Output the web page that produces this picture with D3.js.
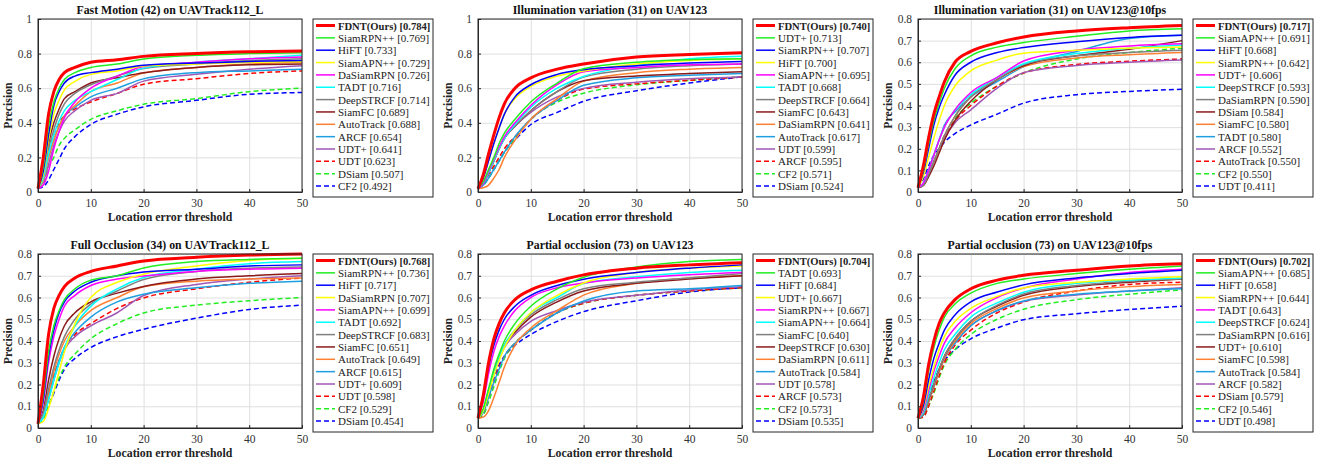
<!DOCTYPE html>
<html>
<head>
<meta charset="utf-8">
<script src="https://cdn.jsdelivr.net/npm/d3@7"></script>
<style>
  body { margin: 0; background: #fff; }
  svg text { font-family: "Times New Roman", "Liberation Serif", "DejaVu Serif", serif; }
  .grid line { stroke: #dfdfdf; stroke-width: 1; }
  .grid path { stroke: none; }
  .axis path, .axis line { stroke: #262626; }
  .axis text { fill: #333; font-size: 11.5px; }
</style>
</head>
<body>
<svg id="chart" width="1324" height="462"></svg>
<script>
const thresholds = [0, 1, 2, 3, 4, 5, 7, 10, 15, 20, 30, 40, 50];

const fmNames = ["FDNT(Ours)", "SiamRPN++", "HiFT", "SiamAPN++", "DaSiamRPN", "TADT", "DeepSTRCF", "SiamFC", "AutoTrack", "ARCF", "UDT+", "UDT", "DSiam", "CF2"];
const fmScores = [0.784, 0.769, 0.733, 0.729, 0.726, 0.716, 0.714, 0.689, 0.688, 0.654, 0.641, 0.623, 0.507, 0.492];
const fmCurves = [
  [0.02, 0.2, 0.45, 0.58, 0.65, 0.69, 0.72, 0.75, 0.765, 0.784, 0.80, 0.81, 0.815],
  [0.02, 0.15, 0.38, 0.52, 0.60, 0.65, 0.69, 0.72, 0.74, 0.769, 0.79, 0.80, 0.805],
  [0.02, 0.12, 0.33, 0.50, 0.58, 0.63, 0.67, 0.69, 0.71, 0.733, 0.745, 0.755, 0.76],
  [0.02, 0.10, 0.30, 0.45, 0.53, 0.59, 0.64, 0.68, 0.70, 0.729, 0.74, 0.75, 0.755],
  [0.02, 0.04, 0.12, 0.25, 0.35, 0.43, 0.52, 0.60, 0.67, 0.726, 0.75, 0.77, 0.78],
  [0.02, 0.08, 0.22, 0.33, 0.41, 0.47, 0.53, 0.58, 0.65, 0.716, 0.75, 0.77, 0.79],
  [0.02, 0.10, 0.25, 0.36, 0.45, 0.51, 0.57, 0.62, 0.67, 0.714, 0.74, 0.76, 0.77],
  [0.02, 0.10, 0.28, 0.40, 0.48, 0.54, 0.58, 0.63, 0.66, 0.689, 0.72, 0.735, 0.74],
  [0.02, 0.07, 0.20, 0.30, 0.38, 0.44, 0.50, 0.58, 0.63, 0.688, 0.72, 0.74, 0.75],
  [0.02, 0.08, 0.20, 0.30, 0.38, 0.44, 0.49, 0.55, 0.60, 0.654, 0.69, 0.70, 0.71],
  [0.02, 0.06, 0.16, 0.27, 0.35, 0.41, 0.47, 0.53, 0.57, 0.641, 0.68, 0.71, 0.73],
  [0.02, 0.10, 0.24, 0.33, 0.40, 0.44, 0.48, 0.52, 0.57, 0.623, 0.655, 0.685, 0.70],
  [0.02, 0.05, 0.14, 0.20, 0.27, 0.31, 0.36, 0.42, 0.47, 0.507, 0.54, 0.58, 0.60],
  [0.02, 0.03, 0.07, 0.13, 0.19, 0.25, 0.32, 0.39, 0.45, 0.492, 0.53, 0.565, 0.575]
];

const ivNames = ["FDNT(Ours)", "UDT+", "SiamRPN++", "HiFT", "SiamAPN++", "TADT", "DeepSTRCF", "SiamFC", "DaSiamRPN", "AutoTrack", "UDT", "ARCF", "CF2", "DSiam"];
const ivScores = [0.740, 0.713, 0.707, 0.700, 0.695, 0.668, 0.664, 0.643, 0.641, 0.617, 0.599, 0.595, 0.571, 0.524];
const ivCurves = [
  [0.02, 0.10, 0.22, 0.33, 0.43, 0.51, 0.60, 0.66, 0.71, 0.74, 0.78, 0.795, 0.805],
  [0.02, 0.06, 0.13, 0.20, 0.28, 0.34, 0.42, 0.52, 0.63, 0.713, 0.75, 0.765, 0.77],
  [0.02, 0.08, 0.18, 0.28, 0.37, 0.45, 0.55, 0.62, 0.68, 0.707, 0.73, 0.745, 0.755],
  [0.02, 0.08, 0.18, 0.28, 0.37, 0.45, 0.54, 0.61, 0.67, 0.700, 0.74, 0.76, 0.77],
  [0.02, 0.05, 0.12, 0.19, 0.26, 0.32, 0.40, 0.50, 0.62, 0.695, 0.72, 0.735, 0.74],
  [0.02, 0.05, 0.11, 0.18, 0.25, 0.31, 0.39, 0.49, 0.60, 0.668, 0.73, 0.77, 0.785],
  [0.02, 0.05, 0.11, 0.18, 0.25, 0.31, 0.38, 0.47, 0.58, 0.664, 0.71, 0.73, 0.74],
  [0.02, 0.05, 0.11, 0.18, 0.25, 0.31, 0.38, 0.47, 0.58, 0.643, 0.67, 0.685, 0.695],
  [0.02, 0.025, 0.04, 0.08, 0.13, 0.20, 0.30, 0.42, 0.54, 0.641, 0.69, 0.71, 0.72],
  [0.02, 0.04, 0.08, 0.13, 0.18, 0.23, 0.32, 0.42, 0.53, 0.617, 0.66, 0.675, 0.685],
  [0.02, 0.05, 0.11, 0.18, 0.25, 0.31, 0.38, 0.46, 0.55, 0.599, 0.635, 0.655, 0.665],
  [0.02, 0.05, 0.10, 0.15, 0.20, 0.25, 0.32, 0.42, 0.53, 0.595, 0.625, 0.645, 0.665],
  [0.02, 0.04, 0.08, 0.13, 0.18, 0.23, 0.31, 0.42, 0.52, 0.571, 0.62, 0.645, 0.665],
  [0.02, 0.04, 0.08, 0.13, 0.18, 0.23, 0.30, 0.39, 0.46, 0.524, 0.585, 0.63, 0.665]
];

const iv10Names = ["FDNT(Ours)", "SiamAPN++", "HiFT", "SiamRPN++", "UDT+", "DeepSTRCF", "DaSiamRPN", "DSiam", "SiamFC", "TADT", "ARCF", "AutoTrack", "CF2", "UDT"];
const iv10Scores = [0.717, 0.691, 0.668, 0.642, 0.606, 0.593, 0.590, 0.584, 0.580, 0.580, 0.552, 0.550, 0.550, 0.411];
const iv10Curves = [
  [0.02, 0.12, 0.25, 0.36, 0.44, 0.51, 0.60, 0.65, 0.69, 0.717, 0.745, 0.76, 0.77],
  [0.02, 0.10, 0.22, 0.33, 0.41, 0.48, 0.57, 0.63, 0.67, 0.691, 0.72, 0.745, 0.755],
  [0.02, 0.09, 0.20, 0.31, 0.39, 0.45, 0.54, 0.60, 0.645, 0.668, 0.695, 0.715, 0.725],
  [0.02, 0.07, 0.16, 0.25, 0.33, 0.40, 0.49, 0.56, 0.61, 0.642, 0.655, 0.665, 0.67],
  [0.02, 0.04, 0.10, 0.17, 0.24, 0.30, 0.38, 0.46, 0.53, 0.606, 0.655, 0.675, 0.685],
  [0.02, 0.04, 0.10, 0.17, 0.24, 0.30, 0.38, 0.45, 0.53, 0.593, 0.64, 0.665, 0.68],
  [0.02, 0.03, 0.08, 0.14, 0.20, 0.26, 0.35, 0.44, 0.52, 0.590, 0.63, 0.645, 0.655],
  [0.02, 0.03, 0.07, 0.12, 0.18, 0.24, 0.33, 0.42, 0.52, 0.584, 0.63, 0.66, 0.70],
  [0.02, 0.03, 0.08, 0.14, 0.20, 0.26, 0.35, 0.44, 0.52, 0.580, 0.62, 0.635, 0.645],
  [0.02, 0.04, 0.10, 0.17, 0.24, 0.31, 0.37, 0.44, 0.51, 0.580, 0.65, 0.71, 0.725],
  [0.02, 0.03, 0.08, 0.14, 0.20, 0.25, 0.32, 0.38, 0.48, 0.552, 0.585, 0.60, 0.61],
  [0.02, 0.03, 0.08, 0.14, 0.20, 0.26, 0.33, 0.40, 0.49, 0.550, 0.59, 0.605, 0.615],
  [0.02, 0.03, 0.08, 0.14, 0.20, 0.26, 0.34, 0.41, 0.49, 0.550, 0.615, 0.645, 0.665],
  [0.02, 0.06, 0.12, 0.17, 0.20, 0.23, 0.27, 0.31, 0.36, 0.411, 0.45, 0.465, 0.475]
];

const focNames = ["FDNT(Ours)", "SiamRPN++", "HiFT", "DaSiamRPN", "SiamAPN++", "TADT", "DeepSTRCF", "SiamFC", "AutoTrack", "ARCF", "UDT+", "UDT", "CF2", "DSiam"];
const focScores = [0.768, 0.736, 0.717, 0.707, 0.699, 0.692, 0.683, 0.651, 0.649, 0.615, 0.609, 0.598, 0.529, 0.454];
const focCurves = [
  [0.02, 0.20, 0.43, 0.55, 0.61, 0.65, 0.69, 0.72, 0.745, 0.768, 0.785, 0.795, 0.80],
  [0.02, 0.15, 0.35, 0.47, 0.54, 0.59, 0.64, 0.68, 0.70, 0.736, 0.765, 0.775, 0.78],
  [0.02, 0.13, 0.33, 0.45, 0.53, 0.58, 0.63, 0.67, 0.70, 0.717, 0.73, 0.745, 0.75],
  [0.02, 0.03, 0.09, 0.17, 0.26, 0.35, 0.48, 0.60, 0.67, 0.707, 0.745, 0.77, 0.78],
  [0.02, 0.12, 0.30, 0.42, 0.50, 0.56, 0.61, 0.655, 0.685, 0.699, 0.72, 0.73, 0.735],
  [0.02, 0.05, 0.13, 0.22, 0.30, 0.37, 0.47, 0.56, 0.64, 0.692, 0.73, 0.755, 0.765],
  [0.02, 0.07, 0.18, 0.28, 0.36, 0.42, 0.50, 0.57, 0.63, 0.683, 0.72, 0.735, 0.74],
  [0.02, 0.08, 0.22, 0.33, 0.41, 0.47, 0.53, 0.58, 0.62, 0.651, 0.685, 0.70, 0.71],
  [0.02, 0.06, 0.16, 0.26, 0.34, 0.40, 0.47, 0.54, 0.60, 0.649, 0.675, 0.685, 0.69],
  [0.02, 0.05, 0.14, 0.23, 0.31, 0.37, 0.44, 0.51, 0.58, 0.615, 0.645, 0.665, 0.675],
  [0.02, 0.05, 0.13, 0.22, 0.30, 0.36, 0.42, 0.47, 0.53, 0.609, 0.66, 0.685, 0.70],
  [0.02, 0.06, 0.15, 0.24, 0.31, 0.37, 0.43, 0.48, 0.55, 0.598, 0.64, 0.67, 0.69],
  [0.02, 0.04, 0.10, 0.17, 0.23, 0.28, 0.34, 0.41, 0.48, 0.529, 0.565, 0.585, 0.60],
  [0.02, 0.04, 0.10, 0.16, 0.22, 0.27, 0.32, 0.37, 0.42, 0.454, 0.505, 0.545, 0.565]
];

const poNames = ["FDNT(Ours)", "TADT", "HiFT", "UDT+", "SiamRPN++", "SiamAPN++", "SiamFC", "DeepSTRCF", "DaSiamRPN", "AutoTrack", "UDT", "ARCF", "CF2", "DSiam"];
const poScores = [0.704, 0.693, 0.684, 0.667, 0.667, 0.664, 0.640, 0.630, 0.611, 0.584, 0.578, 0.573, 0.573, 0.535];
const poCurves = [
  [0.045, 0.15, 0.30, 0.41, 0.48, 0.53, 0.59, 0.635, 0.675, 0.704, 0.735, 0.75, 0.76],
  [0.045, 0.09, 0.18, 0.27, 0.34, 0.40, 0.48, 0.56, 0.64, 0.693, 0.74, 0.765, 0.775],
  [0.045, 0.14, 0.28, 0.38, 0.45, 0.50, 0.56, 0.61, 0.655, 0.684, 0.715, 0.735, 0.75],
  [0.045, 0.08, 0.16, 0.24, 0.31, 0.37, 0.45, 0.53, 0.61, 0.667, 0.715, 0.735, 0.745],
  [0.045, 0.12, 0.25, 0.35, 0.42, 0.47, 0.54, 0.60, 0.645, 0.667, 0.69, 0.705, 0.715],
  [0.045, 0.08, 0.17, 0.25, 0.32, 0.38, 0.45, 0.53, 0.60, 0.664, 0.695, 0.715, 0.725],
  [0.045, 0.08, 0.17, 0.25, 0.32, 0.38, 0.45, 0.52, 0.59, 0.640, 0.67, 0.69, 0.71],
  [0.045, 0.08, 0.17, 0.25, 0.32, 0.38, 0.44, 0.51, 0.58, 0.630, 0.665, 0.685, 0.70],
  [0.045, 0.05, 0.08, 0.14, 0.21, 0.28, 0.38, 0.46, 0.54, 0.611, 0.665, 0.69, 0.70],
  [0.045, 0.07, 0.14, 0.21, 0.27, 0.33, 0.39, 0.45, 0.53, 0.584, 0.63, 0.64, 0.655],
  [0.045, 0.08, 0.17, 0.25, 0.32, 0.37, 0.43, 0.49, 0.54, 0.578, 0.61, 0.635, 0.65],
  [0.045, 0.07, 0.14, 0.21, 0.28, 0.33, 0.39, 0.45, 0.53, 0.573, 0.61, 0.63, 0.645],
  [0.045, 0.06, 0.12, 0.19, 0.26, 0.32, 0.39, 0.45, 0.53, 0.573, 0.61, 0.63, 0.645],
  [0.045, 0.08, 0.16, 0.23, 0.29, 0.33, 0.38, 0.43, 0.49, 0.535, 0.585, 0.625, 0.645]
];

const po10Names = ["FDNT(Ours)", "SiamAPN++", "HiFT", "SiamRPN++", "TADT", "DeepSTRCF", "DaSiamRPN", "UDT+", "SiamFC", "AutoTrack", "ARCF", "DSiam", "CF2", "UDT"];
const po10Scores = [0.702, 0.685, 0.658, 0.644, 0.643, 0.624, 0.616, 0.610, 0.598, 0.584, 0.582, 0.579, 0.546, 0.498];
const po10Curves = [
  [0.045, 0.14, 0.29, 0.40, 0.48, 0.53, 0.59, 0.64, 0.68, 0.702, 0.725, 0.745, 0.755],
  [0.045, 0.12, 0.26, 0.37, 0.45, 0.51, 0.57, 0.62, 0.665, 0.685, 0.71, 0.73, 0.745],
  [0.045, 0.10, 0.22, 0.32, 0.39, 0.45, 0.52, 0.58, 0.625, 0.658, 0.69, 0.71, 0.725],
  [0.045, 0.09, 0.19, 0.28, 0.36, 0.42, 0.49, 0.55, 0.605, 0.644, 0.67, 0.685, 0.695],
  [0.045, 0.08, 0.17, 0.26, 0.33, 0.39, 0.46, 0.53, 0.60, 0.643, 0.685, 0.715, 0.73],
  [0.045, 0.07, 0.15, 0.23, 0.30, 0.36, 0.43, 0.51, 0.575, 0.624, 0.665, 0.68, 0.69],
  [0.045, 0.06, 0.13, 0.20, 0.27, 0.33, 0.41, 0.49, 0.565, 0.616, 0.655, 0.675, 0.685],
  [0.045, 0.06, 0.13, 0.20, 0.27, 0.33, 0.41, 0.49, 0.56, 0.610, 0.65, 0.67, 0.685],
  [0.045, 0.06, 0.12, 0.19, 0.26, 0.32, 0.40, 0.48, 0.55, 0.598, 0.63, 0.65, 0.66],
  [0.045, 0.06, 0.12, 0.19, 0.26, 0.32, 0.39, 0.47, 0.54, 0.584, 0.615, 0.63, 0.64],
  [0.045, 0.06, 0.12, 0.19, 0.26, 0.32, 0.39, 0.47, 0.54, 0.582, 0.612, 0.63, 0.645],
  [0.045, 0.05, 0.10, 0.17, 0.24, 0.30, 0.38, 0.45, 0.53, 0.579, 0.63, 0.66, 0.67],
  [0.045, 0.05, 0.10, 0.16, 0.23, 0.29, 0.36, 0.43, 0.50, 0.546, 0.59, 0.615, 0.635],
  [0.045, 0.07, 0.14, 0.21, 0.27, 0.31, 0.36, 0.41, 0.46, 0.498, 0.525, 0.545, 0.56]
];

// line style by legend rank (same in every panel)
const rankColors = ["#ff0000", "#22ee22", "#0000ff", "#ffff00", "#ff00ff", "#00ffff", "#808080",
  "#8b1a1a", "#ff8032", "#1e9fe0", "#a157b4", "#ff0000", "#22ee22", "#0000ff"];
const rankDashed = [false, false, false, false, false, false, false, false, false, false, false, true, true, true];

const panels = [
  { title: "Fast Motion (42) on UAVTrack112_L", yMax: 1, names: fmNames, scores: fmScores, curves: fmCurves },
  { title: "Illumination variation (31) on UAV123", yMax: 1, names: ivNames, scores: ivScores, curves: ivCurves },
  { title: "Illumination variation (31) on UAV123@10fps", yMax: 0.8, names: iv10Names, scores: iv10Scores, curves: iv10Curves },
  { title: "Full Occlusion (34) on UAVTrack112_L", yMax: 0.8, names: focNames, scores: focScores, curves: focCurves },
  { title: "Partial occlusion (73) on UAV123", yMax: 0.8, names: poNames, scores: poScores, curves: poCurves },
  { title: "Partial occlusion (73) on UAV123@10fps", yMax: 0.8, names: po10Names, scores: po10Scores, curves: po10Curves }
];

const svg = d3.select("#chart");
const plotW = 264;
const colLeft = [38, 478, 918];
const rowTop = [19, 254];
const rowH = [173, 174];

panels.forEach((p, i) => {
  const col = i % 3;
  const row = Math.floor(i / 3);
  const left = colLeft[col];
  const top = rowTop[row];
  const h = rowH[row];

  const g = svg.append("g").attr("transform", `translate(${left},${top})`);
  const x = d3.scaleLinear().domain([0, 50]).range([0, plotW]);
  const y = d3.scaleLinear().domain([0, p.yMax]).range([h, 0]);
  const yTickCount = p.yMax === 1 ? 5 : 8;

  g.append("g").attr("class", "grid")
    .call(d3.axisLeft(y).ticks(yTickCount).tickSize(-plotW).tickFormat(""));
  g.append("g").attr("class", "grid").attr("transform", `translate(0,${h})`)
    .call(d3.axisBottom(x).ticks(5).tickSize(-h).tickFormat(""));

  // draw last rank first so FDNT ends on top
  const line = d3.line()
    .x((d, k) => x(thresholds[k]))
    .y((d) => y(d))
    .curve(d3.curveMonotoneX);

  const order = d3.range(p.curves.length).reverse();
  g.append("g").selectAll("path")
    .data(order)
    .join("path")
    .attr("fill", "none")
    .attr("stroke", (r) => rankColors[r])
    .attr("stroke-width", (r) => (r === 0 ? 3 : 1.5))
    .attr("stroke-dasharray", (r) => (rankDashed[r] ? "5,3" : null))
    .attr("d", (r) => line(p.curves[r]));

  g.append("g").attr("class", "axis").attr("transform", `translate(0,${h})`)
    .call(d3.axisBottom(x).ticks(5).tickSizeInner(-3).tickSizeOuter(0).tickPadding(7));
  g.append("g").attr("class", "axis")
    .call(d3.axisLeft(y).ticks(yTickCount).tickSizeInner(-3).tickSizeOuter(0).tickPadding(6)
      .tickFormat(d3.format(".1~f")));
  g.append("rect").attr("width", plotW).attr("height", h)
    .attr("fill", "none").attr("stroke", "#262626").attr("stroke-width", 1);

  g.append("text")
    .attr("x", plotW / 2).attr("y", -5)
    .attr("text-anchor", "middle")
    .attr("font-weight", "bold").attr("font-size", "11.8px").attr("fill", "#111")
    .text(p.title);

  g.append("text")
    .attr("x", plotW / 2).attr("y", h + 29)
    .attr("text-anchor", "middle")
    .attr("font-weight", "bold").attr("font-size", "11.8px").attr("fill", "#222")
    .text("Location error threshold");

  g.append("text")
    .attr("transform", `translate(${-26},${h / 2}) rotate(-90)`)
    .attr("text-anchor", "middle")
    .attr("font-weight", "bold").attr("font-size", "11.8px").attr("fill", "#222")
    .text("Precision");

  // legend
  const lg = g.append("g").attr("transform", "translate(275,0)");
  lg.append("rect").attr("width", 120).attr("height", 178)
    .attr("fill", "#fff").attr("stroke", "#262626").attr("stroke-width", 1);
  const items = lg.selectAll("g.item")
    .data(p.names.map((n, r) => ({ n, r, s: p.scores[r] })))
    .join("g")
    .attr("class", "item")
    .attr("transform", (d) => `translate(0,${6.5 + d.r * 12.35})`);
  items.append("line")
    .attr("x1", 3).attr("x2", 22)
    .attr("stroke", (d) => rankColors[d.r])
    .attr("stroke-width", (d) => (d.r === 0 ? 3 : 1.5))
    .attr("stroke-dasharray", (d) => (rankDashed[d.r] ? "5,3" : null));
  items.append("text")
    .attr("x", 25).attr("y", 4)
    .attr("font-size", (d) => (d.r === 0 ? "10.6px" : "11px"))
    .attr("font-weight", (d) => (d.r === 0 ? "bold" : "normal"))
    .attr("fill", "#222")
    .text((d) => `${d.n} [${d.s.toFixed(3)}]`);
});
</script>
</body>
</html>
